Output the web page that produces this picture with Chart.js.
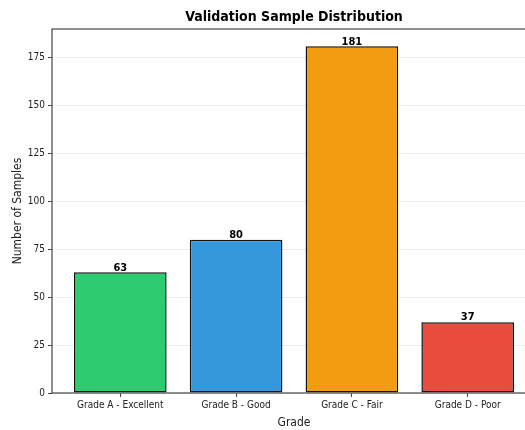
<!DOCTYPE html>
<html>
<head>
<meta charset="utf-8">
<script src="https://cdn.jsdelivr.net/npm/chart.js@4"></script>
<style>
  html, body { margin: 0; padding: 0; background: #fff; overflow: hidden; }
  #wrap { width: 545px; height: 430px; }
</style>
</head>
<body>
<div id="wrap"><canvas id="c" width="545" height="430"></canvas></div>
<script>
const categories = ['Grade A - Excellent', 'Grade B - Good', 'Grade C - Fair', 'Grade D - Poor'];
const sampleCounts = [63, 80, 181, 37];
const barColors = ['#2ecc71', '#3498db', '#f39c12', '#e74c3c'];
const yTicks = [0, 25, 50, 75, 100, 125, 150, 175];
const chartTitle = 'Validation Sample Distribution';

const FONT = "'DejaVu Sans Condensed', 'DejaVu Sans', sans-serif";

// Frame around the plotting area (all four sides) and the title centred over it
const framePlugin = {
  id: 'frame',
  afterDatasetsDraw(chart) {
    const { ctx, chartArea: a } = chart;
    ctx.save();
    ctx.strokeStyle = '#444';
    ctx.lineWidth = 1.2;
    ctx.strokeRect(a.left, a.top, a.right - a.left, a.bottom - a.top);
    ctx.font = "bold 14px " + FONT;
    ctx.fillStyle = '#000';
    ctx.textAlign = 'center';
    ctx.textBaseline = 'middle';
    ctx.fillText(chartTitle, (a.left + a.right) / 2, 17);
    ctx.restore();
  }
};

// Count labels above each bar
const valueLabels = {
  id: 'valueLabels',
  afterDatasetsDraw(chart) {
    const { ctx, scales } = chart;
    ctx.save();
    ctx.font = "bold 11px " + FONT;
    ctx.fillStyle = '#000';
    ctx.textAlign = 'center';
    ctx.textBaseline = 'bottom';
    sampleCounts.forEach((v, i) => {
      ctx.fillText(String(v), scales.x.getPixelForValue(i), scales.y.getPixelForValue(v) + 1);
    });
    ctx.restore();
  }
};

new Chart(document.getElementById('c'), {
  type: 'bar',
  data: {
    datasets: [{
      data: sampleCounts.map((v, i) => ({ x: i, y: v })),
      backgroundColor: barColors,
      borderColor: '#111',
      borderWidth: 1.5,
      borderSkipped: false,
      barPercentage: 0.8,
      categoryPercentage: 1.0
    }]
  },
  options: {
    responsive: false,
    animation: false,
    devicePixelRatio: 1,
    layout: { padding: { left: 0, right: 9, top: 29, bottom: 0 } },
    plugins: {
      legend: { display: false },
      tooltip: { enabled: false },
      title: { display: false }
    },
    scales: {
      x: {
        type: 'linear',
        min: -0.59,
        max: 3.59,
        offset: false,
        afterBuildTicks(scale) {
          scale.ticks = categories.map((_, i) => ({ value: i }));
        },
        afterFit(scale) { scale.height = 37; },
        ticks: {
          color: '#222',
          font: { family: FONT, size: 10 },
          padding: 2,
          maxRotation: 0,
          autoSkip: false,
          callback: (v) => categories[v]
        },
        grid: {
          offset: false,
          drawOnChartArea: false,
          tickColor: '#444',
          tickLength: 4
        },
        border: { display: false },
        title: {
          display: true,
          text: 'Grade',
          color: '#222',
          font: { family: FONT, size: 12 },
          padding: { top: 0, bottom: 0 }
        }
      },
      y: {
        min: 0,
        max: 190.05,
        afterBuildTicks(scale) {
          scale.ticks = yTicks.map(v => ({ value: v }));
        },
        afterFit(scale) { scale.width = 52; },
        ticks: {
          color: '#222',
          font: { family: FONT, size: 10 },
          padding: 3
        },
        grid: {
          color: 'rgba(200,200,200,0.35)',
          lineWidth: 1,
          tickColor: '#444',
          tickLength: 4
        },
        border: { display: false },
        title: {
          display: true,
          text: 'Number of Samples',
          color: '#222',
          font: { family: FONT, size: 12 },
          padding: { top: 11, bottom: 0 }
        }
      }
    }
  },
  plugins: [framePlugin, valueLabels]
});
</script>
</body>
</html>
